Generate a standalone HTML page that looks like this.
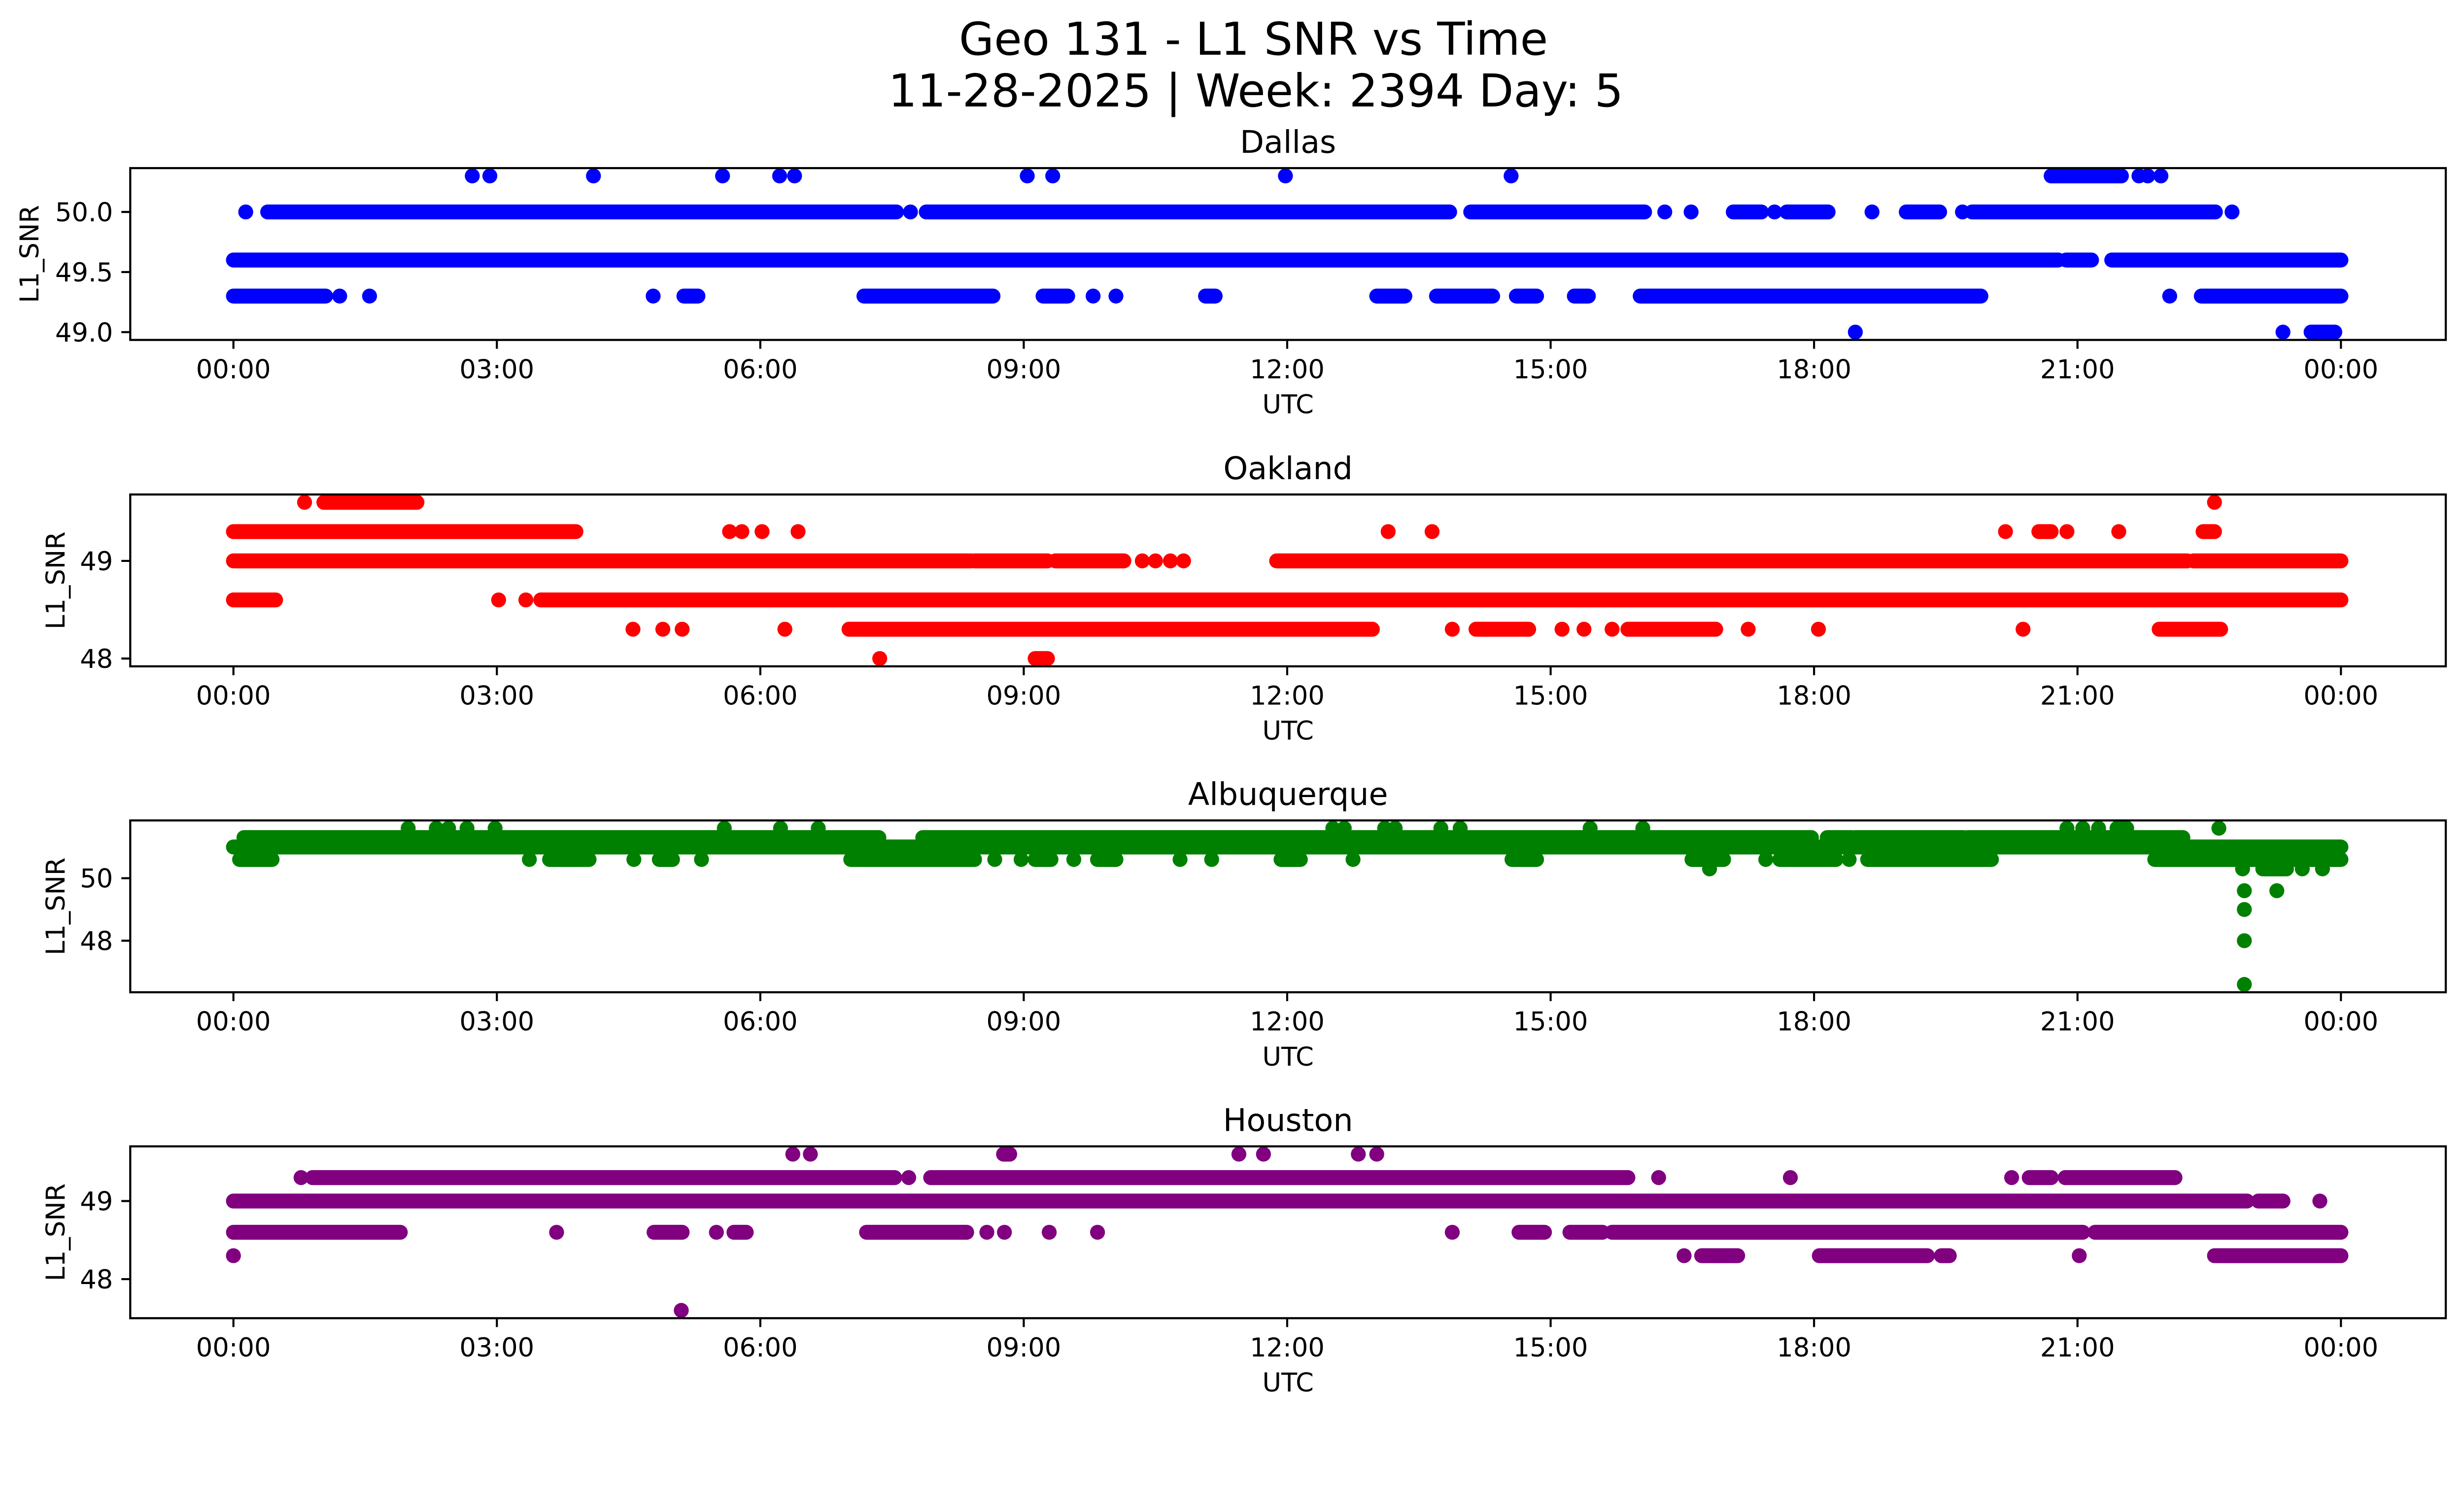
<!DOCTYPE html>
<html><head><meta charset="utf-8">
<style>
html,body{margin:0;padding:0;background:#fff;overflow:hidden;}
svg{display:block;position:absolute;left:0;top:0;width:100vw;height:calc(100vw * 3033 / 5278);}
text{font-family:"DejaVu Sans","Liberation Sans",sans-serif;fill:#000;}
</style></head>
<body>
<svg id="fig" xmlns="http://www.w3.org/2000/svg" viewBox="0 0 5278 3033" preserveAspectRatio="xMinYMin meet" overflow="hidden">
<rect width="5278" height="3033" fill="#fff"/>
<text x="2685" y="117" font-size="97" text-anchor="middle">Geo 131 - L1 SNR vs Time</text>
<text x="2690" y="228" font-size="97" text-anchor="middle">11-28-2025 | Week: 2394 Day: 5</text>
<g id="panels"></g>
</svg>
<script>
const xTickHours = [0, 3, 6, 9, 12, 15, 18, 21, 24];
const xTickLabels = ["00:00","03:00","06:00","09:00","12:00","15:00","18:00","21:00","00:00"];

const dallasLevels = [50.3, 50.0, 49.6, 49.3, 49.0];
const dallasRuns = [
  [[2.72,2.72],[2.92,2.92],[4.10,4.10],[5.57,5.57],[6.22,6.22],[6.39,6.39],[9.04,9.04],[9.33,9.33],[11.98,11.98],[14.55,14.55],[20.7,21.5],[21.7,21.7],[21.8,21.8],[21.95,21.95]],
  [[0.14,0.14],[0.39,7.55],[7.71,7.71],[7.89,13.85],[14.09,16.07],[16.30,16.30],[16.60,16.60],[17.08,17.40],[17.55,17.55],[17.69,18.16],[18.66,18.66],[19.05,19.43],[19.69,19.69],[19.80,22.57],[22.76,22.76]],
  [[0,20.78],[20.87,21.16],[21.39,24.0]],
  [[0,1.05],[1.21,1.21],[1.55,1.55],[4.78,4.78],[5.13,5.29],[7.18,8.65],[9.22,9.50],[9.79,9.79],[10.05,10.05],[11.07,11.18],[13.02,13.34],[13.70,14.34],[14.61,14.84],[15.27,15.43],[16.02,19.90],[22.05,22.05],[22.41,24.0]],
  [[18.47,18.47],[23.34,23.34],[23.66,23.93]]
];
const dallasYTicks = [49.0, 49.5, 50.0];
const dallasYLabels = ["49.0","49.5","50.0"];

const oaklandLevels = [49.6, 49.3, 49.0, 48.6, 48.3, 48.0];
const oaklandRuns = [
  [[0.81,0.81],[1.03,2.09],[22.56,22.56]],
  [[0,3.90],[5.65,5.65],[5.79,5.79],[6.02,6.02],[6.43,6.43],[13.15,13.15],[13.65,13.65],[20.18,20.18],[20.56,20.70],[20.88,20.88],[21.47,21.47],[22.43,22.56]],
  [[0,8.40],[8.44,9.27],[9.36,10.14],[10.35,10.35],[10.50,10.50],[10.67,10.67],[10.82,10.82],[11.88,22.25],[22.32,24.0]],
  [[0,0.48],[3.02,3.02],[3.33,3.33],[3.50,24.0]],
  [[4.55,4.55],[4.89,4.89],[5.11,5.11],[6.28,6.28],[7.01,12.97],[13.88,13.88],[14.15,14.75],[15.13,15.13],[15.38,15.38],[15.70,15.70],[15.88,16.88],[17.25,17.25],[18.05,18.05],[20.38,20.38],[21.93,22.63]],
  [[7.36,7.36],[9.13,9.27]]
];
const oaklandYTicks = [48, 49];
const oaklandYLabels = ["48","49"];

const albuquerqueLevels = [51.6, 51.3, 51.0, 50.6, 50.3, 49.6, 49.0, 48.0, 46.6];
const albuquerqueRuns = [
  [[1.99,1.99],[2.31,2.31],[2.45,2.45],[2.66,2.66],[2.98,2.98],[5.59,5.59],[6.23,6.23],[6.66,6.66],[12.52,12.52],[12.65,12.65],[13.11,13.11],[13.23,13.23],[13.75,13.75],[13.97,13.97],[15.45,15.45],[16.05,16.05],[20.88,20.88],[21.06,21.06],[21.24,21.24],[21.45,21.56],[22.61,22.61]],
  [[0.12,7.35],[7.85,17.97],[18.15,18.43],[18.47,19.70],[19.75,22.2]],
  [[0,24.0]],
  [[0.07,0.44],[3.37,3.37],[3.6,4.05],[4.56,4.56],[4.85,5.0],[5.33,5.33],[7.03,8.44],[8.67,8.67],[8.97,8.97],[9.13,9.31],[9.57,9.57],[9.84,10.05],[10.78,10.78],[11.14,11.14],[11.93,12.15],[12.75,12.75],[14.56,14.84],[16.61,16.97],[17.45,17.45],[17.61,18.25],[18.4,18.4],[18.61,20.02],[21.88,24.0]],
  [[16.81,16.81],[22.88,22.88],[23.11,23.38],[23.56,23.56],[23.79,23.79]],
  [[22.9,22.9],[23.27,23.27]],
  [[22.9,22.9]],
  [[22.9,22.9]],
  [[22.9,22.9]]
];
const albuquerqueYTicks = [48, 50];
const albuquerqueYLabels = ["48","50"];

const houstonLevels = [49.6, 49.3, 49.0, 48.6, 48.3, 47.6];
const houstonRuns = [
  [[6.37,6.37],[6.57,6.57],[8.77,8.84],[11.45,11.45],[11.73,11.73],[12.81,12.81],[13.02,13.02]],
  [[0.77,0.77],[0.9,7.53],[7.69,7.69],[7.94,15.88],[16.23,16.23],[17.73,17.73],[20.25,20.25],[20.45,20.70],[20.86,22.11]],
  [[0,22.93],[23.06,23.34],[23.76,23.76]],
  [[0,1.90],[3.68,3.68],[4.79,5.11],[5.50,5.50],[5.70,5.84],[7.21,8.35],[8.58,8.58],[8.78,8.78],[9.29,9.29],[9.84,9.84],[13.88,13.88],[14.64,14.93],[15.22,15.59],[15.70,21.06],[21.2,24.0]],
  [[0,0],[16.52,16.52],[16.72,17.13],[18.06,19.29],[19.45,19.54],[21.02,21.02],[22.56,24.0]],
  [[5.10,5.10]]
];
const houstonYTicks = [48, 49];
const houstonYLabels = ["48","49"];

const NS = "http://www.w3.org/2000/svg";
const AX_L = 279, AX_R = 5239, AX_H = 368, R = 16;
const xDomain = [-1.175, 25.194];
function xScale(h){ return AX_L + (h - xDomain[0]) / (xDomain[1] - xDomain[0]) * (AX_R - AX_L); }

function mk(tag, attrs, parent){
  const e = document.createElementNS(NS, tag);
  for (const k in attrs) e.setAttribute(k, attrs[k]);
  parent.appendChild(e);
  return e;
}

const panelsG = document.getElementById("panels");

function drawPanel(name, key, top, color, levels, runs, yTicks, yLabels, ylabX){
  const g = mk("g", {}, panelsG);
  
  
  const lo = Math.min(...levels), hi = Math.max(...levels), pad = (hi - lo) * 0.05;
  const y0 = lo - pad, y1 = hi + pad;
  const yScale = v => top + AX_H - (v - y0) / (y1 - y0) * AX_H;

  const t = mk("text", {x: (AX_L + AX_R) / 2, y: top - 33, "font-size": 67, "text-anchor": "middle"}, g);
  t.textContent = name;
  
  

  const pg = mk("g", {fill: color}, g);
  
  
  levels.forEach((lv, i) => {
    const cy = yScale(lv);
    runs[i].forEach(run => {
      const xa = xScale(run[0]), xb = xScale(run[1]);
      const m = mk("rect", {x: xa - R, y: cy - R, width: (xb - xa) + 2 * R, height: 2 * R, rx: R, ry: R}, pg);
      
      
    });
  });

  const f = mk("rect", {x: AX_L, y: top, width: AX_R - AX_L, height: AX_H, fill: "none", stroke: "#000", "stroke-width": 4.5}, g);
  
  

  const xg = mk("g", {}, g);
  
  
  xTickHours.forEach((h, i) => {
    const x = xScale(h);
    mk("line", {x1: x, x2: x, y1: top + AX_H, y2: top + AX_H + 19, stroke: "#000", "stroke-width": 4.4}, xg);
    const tl = mk("text", {x: x, y: top + AX_H + 82, "font-size": 55.6, "text-anchor": "middle"}, xg);
    tl.textContent = xTickLabels[i];
    
    
  });
  const xl = mk("text", {x: (AX_L + AX_R) / 2, y: top + 525, "font-size": 55.6, "text-anchor": "middle"}, g);
  xl.textContent = "UTC";
  
  

  const yg = mk("g", {}, g);
  
  
  yTicks.forEach((v, i) => {
    const y = yScale(v);
    mk("line", {x1: AX_L - 19, x2: AX_L, y1: y, y2: y, stroke: "#000", "stroke-width": 4.4}, yg);
    const tl = mk("text", {x: AX_L - 37, y: y + 20, "font-size": 55.6, "text-anchor": "end"}, yg);
    tl.textContent = yLabels[i];
    
    
  });
  const cy = top + AX_H / 2;
  const yl = mk("text", {x: ylabX, y: cy, "font-size": 55.6, "text-anchor": "middle", "dominant-baseline": "central", transform: "rotate(-90 " + ylabX + " " + cy + ")"}, g);
  yl.textContent = "L1_SNR";
  
  
}

drawPanel("Dallas", "dallas", 360, "#0000ff", dallasLevels, dallasRuns, dallasYTicks, dallasYLabels, 64);
drawPanel("Oakland", "oakland", 1059, "#ff0000", oaklandLevels, oaklandRuns, oaklandYTicks, oaklandYLabels, 120);
drawPanel("Albuquerque", "albuquerque", 1757, "#008000", albuquerqueLevels, albuquerqueRuns, albuquerqueYTicks, albuquerqueYLabels, 120);
drawPanel("Houston", "houston", 2455, "#800080", houstonLevels, houstonRuns, houstonYTicks, houstonYLabels, 120);
</script>
</body></html>
